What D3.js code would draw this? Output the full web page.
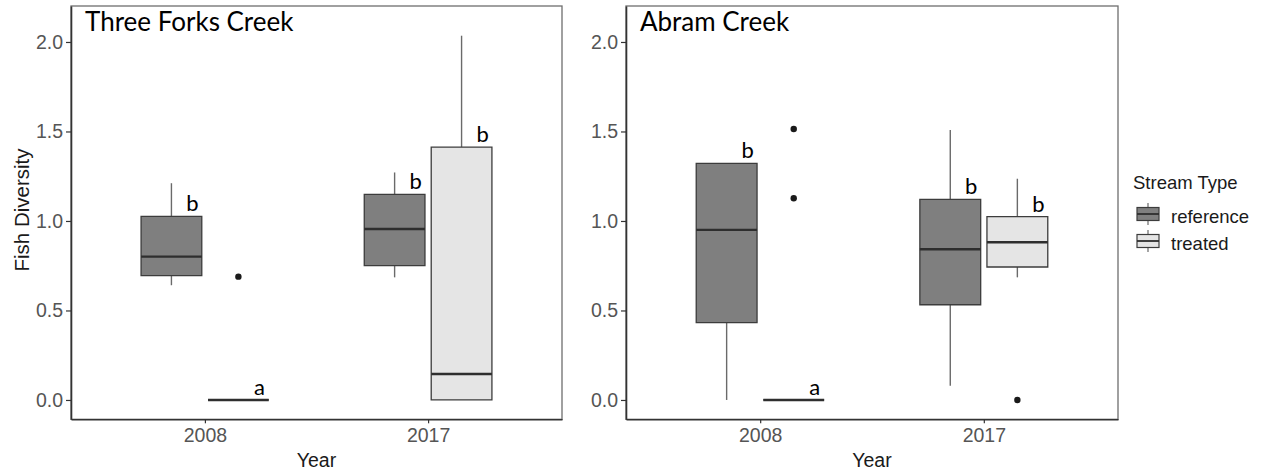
<!DOCTYPE html>
<html>
<head>
<meta charset="utf-8">
<script src="https://cdn.jsdelivr.net/npm/d3@7"></script>
<style>
  html, body { margin: 0; padding: 0; background: #fff; }
  svg { display: block; }
</style>
</head>
<body>
<svg id="chart" width="1263" height="473"></svg>
<script>
// Fish diversity by year and stream type, two creeks
const years = ["2008", "2017"];
const streamTypes = ["reference", "treated"];
const yTicks = [0, 0.5, 1.0, 1.5, 2.0];

// Box summaries: [year, type, lowerWhisker, q1, median, q3, upperWhisker]
const threeForksBoxes = [
  ["2008", "reference", 0.641, 0.695, 0.801, 1.026, 1.211],
  ["2008", "treated",   0.0,   0.0,   0.0,   0.0,   0.0],
  ["2017", "reference", 0.685, 0.750, 0.955, 1.149, 1.271],
  ["2017", "treated",   0.0,   0.0,   0.145, 1.413, 2.035]
];
const abramBoxes = [
  ["2008", "reference", 0.0,   0.432, 0.950, 1.322, 1.322],
  ["2008", "treated",   0.0,   0.0,   0.0,   0.0,   0.0],
  ["2017", "reference", 0.080, 0.532, 0.842, 1.121, 1.508],
  ["2017", "treated",   0.685, 0.743, 0.881, 1.024, 1.236]
];

// Outlying points: [year, type, value]
const threeForksOutliers = [["2008", "treated", 0.689]];
const abramOutliers = [
  ["2008", "treated", 1.127],
  ["2008", "treated", 1.514],
  ["2017", "treated", 0.0]
];

// Significance letters: [year, type, letter]
const threeForksLetters = [
  ["2008", "reference", "b"], ["2008", "treated", "a"],
  ["2017", "reference", "b"], ["2017", "treated", "b"]
];
const abramLetters = [
  ["2008", "reference", "b"], ["2008", "treated", "a"],
  ["2017", "reference", "b"], ["2017", "treated", "b"]
];

const panels = [
  { title: "Three Forks Creek", boxes: threeForksBoxes, outliers: threeForksOutliers,
    letters: threeForksLetters, x0: 71, x1: 562, yTitle: "Fish Diversity" },
  { title: "Abram Creek", boxes: abramBoxes, outliers: abramOutliers,
    letters: abramLetters, x0: 626, x1: 1118, yTitle: null }
];

const fills = d3.scaleOrdinal().domain(streamTypes).range(["#7f7f7f", "#e5e5e5"]);
const dodge = d3.scaleOrdinal().domain(streamTypes).range([-0.15, 0.15]);
const boxWidth = 0.272;

const panelTop = 6, panelBottom = 419.3;
const y = d3.scaleLinear().domain([-0.108, 2.201]).range([panelBottom, panelTop]);

const svg = d3.select("#chart");
const tickFont = "Liberation Sans, Arial, sans-serif";
const letterFont = "Lato, Carlito, Calibri, sans-serif";

panels.forEach(p => {
  const x = d3.scalePoint().domain(years).range([p.x0, p.x1]).padding(0.6);
  const step = x.step();
  const cx = (yr, t) => x(yr) + dodge(t) * step;
  const hw = boxWidth * step / 2;

  const g = svg.append("g");

  // panel frame
  g.append("rect")
    .attr("x", p.x0).attr("y", panelTop)
    .attr("width", p.x1 - p.x0).attr("height", panelBottom - panelTop)
    .attr("fill", "none").attr("stroke", "#6e6e6e").attr("stroke-width", 1.3);

  // y axis
  const yAxis = g.append("g")
    .attr("transform", `translate(${p.x0},0)`)
    .call(d3.axisLeft(y).tickValues(yTicks).tickFormat(d3.format(".1f"))
      .tickSize(5).tickSizeOuter(0).tickPadding(3));
  yAxis.select(".domain").attr("stroke", "#333").attr("stroke-width", 1.6);
  yAxis.selectAll(".tick line").attr("stroke", "#333").attr("stroke-width", 1.2);
  yAxis.selectAll(".tick text")
    .attr("fill", "#555").style("font-family", tickFont).style("font-size", "19.5px");

  // x axis
  const xAxis = g.append("g")
    .attr("transform", `translate(0,${panelBottom})`)
    .call(d3.axisBottom(x).tickSize(4).tickSizeOuter(0).tickPadding(5));
  xAxis.select(".domain").attr("stroke", "#333").attr("stroke-width", 1.6);
  xAxis.selectAll(".tick line").attr("stroke", "#333").attr("stroke-width", 1.2);
  xAxis.selectAll(".tick text")
    .attr("fill", "#555").style("font-family", tickFont).style("font-size", "19.5px");

  // axis titles
  g.append("text")
    .attr("x", (p.x0 + p.x1) / 2).attr("y", 466.5)
    .attr("text-anchor", "middle")
    .style("font-family", tickFont).style("font-size", "19.5px").attr("fill", "#1a1a1a")
    .text("Year");
  if (p.yTitle) {
    g.append("text")
      .attr("transform", `translate(29,${(y(0) + y(2)) / 2 - 11}) rotate(-90)`)
      .attr("text-anchor", "middle")
      .style("font-family", tickFont).style("font-size", "20.5px").attr("fill", "#1a1a1a")
      .text(p.yTitle);
  }

  // panel title
  g.append("text")
    .attr("x", p.x0 + 14).attr("y", 31)
    .style("font-family", letterFont).style("font-size", "26px").attr("fill", "#000")
    .text(p.title);

  // whiskers
  g.selectAll(".whisker-hi").data(p.boxes).join("line")
    .attr("x1", d => cx(d[0], d[1])).attr("x2", d => cx(d[0], d[1]))
    .attr("y1", d => y(d[5])).attr("y2", d => y(d[6]))
    .attr("stroke", "#6a6a6a").attr("stroke-width", 1.4);
  g.selectAll(".whisker-lo").data(p.boxes).join("line")
    .attr("x1", d => cx(d[0], d[1])).attr("x2", d => cx(d[0], d[1]))
    .attr("y1", d => y(d[3])).attr("y2", d => y(d[2]))
    .attr("stroke", "#6a6a6a").attr("stroke-width", 1.4);

  // boxes (paths so zero-height boxes still show as a line)
  g.selectAll(".box").data(p.boxes).join("path")
    .attr("d", d => {
      const c = cx(d[0], d[1]);
      return `M${c - hw},${y(d[5])}H${c + hw}V${y(d[3])}H${c - hw}Z`;
    })
    .attr("fill", d => fills(d[1]))
    .attr("stroke", "#3c3c3c").attr("stroke-width", 1.3);

  // medians
  g.selectAll(".median").data(p.boxes).join("line")
    .attr("x1", d => cx(d[0], d[1]) - hw).attr("x2", d => cx(d[0], d[1]) + hw)
    .attr("y1", d => y(d[4])).attr("y2", d => y(d[4]))
    .attr("stroke", "#2e2e2e").attr("stroke-width", 2.4);

  // outliers
  g.selectAll(".outlier").data(p.outliers).join("circle")
    .attr("cx", d => cx(d[0], d[1])).attr("cy", d => y(d[2]))
    .attr("r", 3.2).attr("fill", "#1a1a1a");

  // letters above each box
  const boxTop = (yr, t) => p.boxes.find(b => b[0] === yr && b[1] === t)[5];
  g.selectAll(".letter").data(p.letters).join("text")
    .attr("x", d => cx(d[0], d[1]) + 21)
    .attr("y", d => y(boxTop(d[0], d[1])) - 5)
    .attr("text-anchor", "middle")
    .style("font-family", letterFont).style("font-size", "22px").attr("fill", "#000")
    .text(d => d[2]);
});

// legend
const legend = svg.append("g");
legend.append("text")
  .attr("x", 1133).attr("y", 189)
  .style("font-family", tickFont).style("font-size", "18.5px").attr("fill", "#1a1a1a")
  .text("Stream Type");

const keys = legend.selectAll(".key").data(streamTypes).join("g")
  .attr("transform", (d, i) => `translate(1136,${203 + i * 27})`);
keys.append("line")
  .attr("x1", 12).attr("x2", 12).attr("y1", 0).attr("y2", 22)
  .attr("stroke", "#6a6a6a").attr("stroke-width", 1.2);
keys.append("rect")
  .attr("x", 1).attr("y", 4.5).attr("width", 22).attr("height", 13)
  .attr("fill", d => fills(d)).attr("stroke", "#3c3c3c").attr("stroke-width", 1.2);
keys.append("line")
  .attr("x1", 1).attr("x2", 23).attr("y1", 11).attr("y2", 11)
  .attr("stroke", "#2e2e2e").attr("stroke-width", 1.8);
keys.append("text")
  .attr("x", 35).attr("y", 19.5)
  .style("font-family", tickFont).style("font-size", "18.5px").attr("fill", "#1a1a1a")
  .text(d => d);
</script>
</body>
</html>
